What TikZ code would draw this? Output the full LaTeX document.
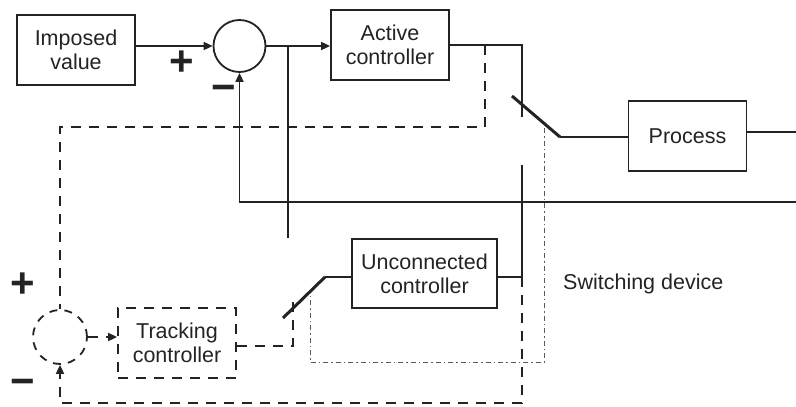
\documentclass[tikz,border=0pt]{standalone}
\usepackage{fontspec}
\setmainfont{Liberation Sans}
\usetikzlibrary{arrows.meta}
\definecolor{ink}{RGB}{35,35,35}
\definecolor{dashdotgray}{RGB}{90,90,90}

\begin{document}
\begin{tikzpicture}[x=1pt,y=-1pt,line join=miter,
  line/.style={draw=ink,line width=1.8pt},
  dline/.style={line,dash pattern=on 10pt off 8pt},
  ddline/.style={draw=dashdotgray,line width=1pt,dash pattern=on 5pt off 3pt on 1.5pt off 3pt},
  blade/.style={draw=ink,line width=3pt},
  arr/.style={-{Triangle[length=9pt,width=8pt]}},
  blk/.style={line,rectangle,align=center,text=ink,inner sep=2pt,
    font=\fontsize{21.5}{24}\selectfont},
  sumnode/.style={line,circle,inner sep=0pt},
  sgn/.style={text=ink,inner sep=0pt,font=\fontsize{42}{42}\selectfont\bfseries}]
\useasboundingbox (0,0) rectangle (796,407);

\node[blk,minimum width=118pt,minimum height=70pt] (imp) at (76,50) {Imposed\\value};
\node[sumnode,minimum size=52pt] (sumA) at (239.5,46) {};
\node[blk,minimum width=118pt,minimum height=70pt] (act) at (390,45) {Active\\controller};
\node[blk,minimum width=118pt,minimum height=70pt] (proc) at (687.5,136) {Process};
\node[blk,minimum width=145pt,minimum height=69pt] (unc) at (424.5,273.5) {Unconnected\\controller};
\node[blk,dline,minimum width=118pt,minimum height=70pt] (trk) at (177,343) {Tracking\\controller};
\node[sumnode,dline,dash pattern=on 8pt off 7pt,minimum size=54pt] (sumB) at (60,337) {};

% switches
\coordinate (swA) at (522,117);
\coordinate (bA1) at (512,96);
\coordinate (bA2) at (560,137);
\coordinate (bB1) at (283,318);
\coordinate (bB2) at (325,277);
\coordinate (swB) at (293,298);

\coordinate (outR) at (796,132);
\coordinate (fbR) at (796,202);
\coordinate (brA) at (288,46);
\coordinate (brB) at (288,238);
\coordinate (dA) at (485,45);
\coordinate (dB) at (60,127);
\coordinate (uTop) at (522,165);
\coordinate (uJ) at (522,277);
\coordinate (dC) at (522,403);

\draw[line,arr] (imp.east |- sumA) -- (sumA.west);
\draw[line,arr] (sumA.east) -- (act.west |- sumA);
\draw[line] (brA) -- (brB);
\draw[line] (act.east) -| (swA);
\draw[blade] (bA1) -- (bA2);
\draw[line] (bA2) -- (bA2 -| proc.west);
\draw[line] (proc.east |- outR) -- (outR);
\draw[line,arr] (fbR) -| (sumA.south);

\draw[line] (uTop) -- (uJ) -- (uJ -| unc.east);
\draw[line] (unc.west |- bB2) -- (bB2);
\draw[blade] (bB2) -- (bB1);

% tracking path
\draw[dline] (dA) |- (dB) -- (sumB.north);
\draw[dline,arr] (sumB.east) -- (sumB.east -| trk.west);
\draw[dline] (trk.east |- 0,346) -| (swB);
\draw[dline,arr] (uJ) -- (dC) -| (sumB.south);

% switching device outline
\draw[ddline] (544,128) -- (544,362) -- (310,362) -- (310,293);

\node[sgn] (pA) at (182,63) {+};
\node[sgn] (mA) at (224,93) {−};
\node[sgn] (pB) at (23,285) {+};
\node[sgn] (mB) at (23,387) {−};
\node[text=ink,anchor=west,inner sep=0pt,font=\fontsize{21.5}{24}\selectfont] (swlbl) at (563,284) {Switching device};
\end{tikzpicture}
\end{document}
